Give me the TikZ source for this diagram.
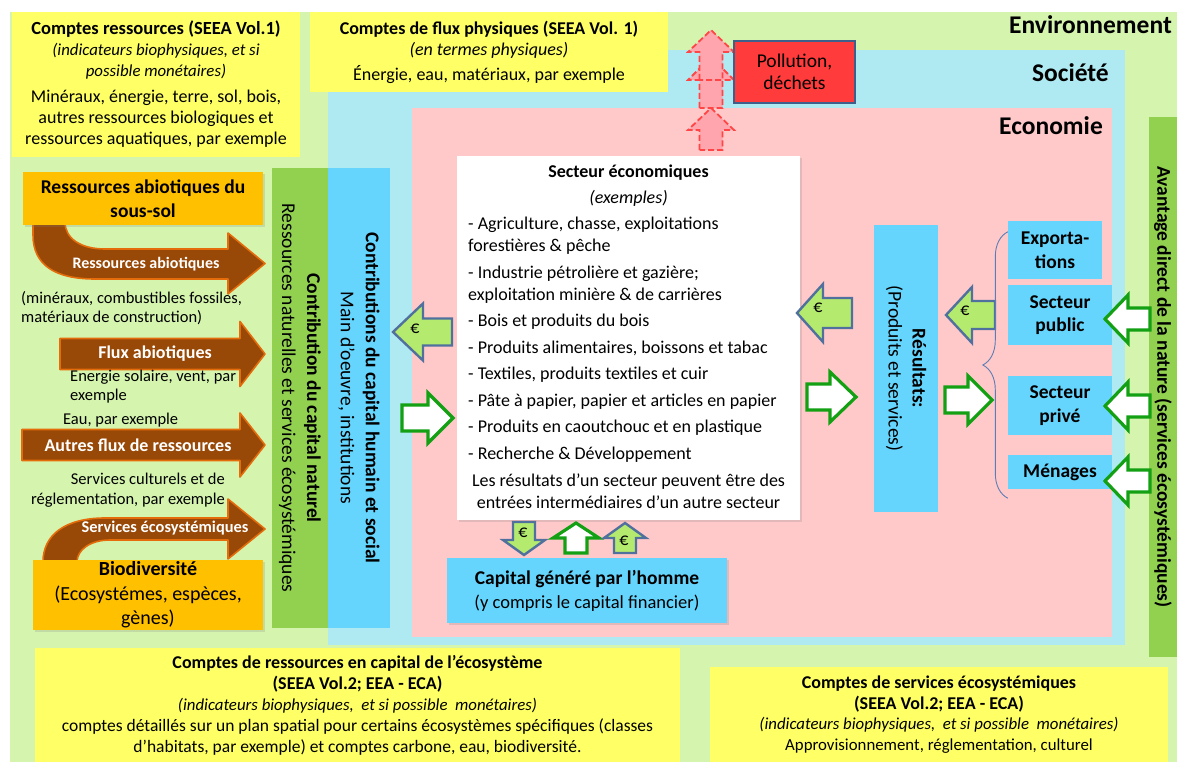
\documentclass[tikz,border=0pt]{standalone}
\usepackage{fontspec}
\setmainfont{Carlito}
\usetikzlibrary{decorations.pathreplacing,shadows}
\definecolor{envgreen}{HTML}{D5F5AF}
\definecolor{socblue}{HTML}{AFEAF3}
\definecolor{ecopink}{HTML}{FFC9C9}
\definecolor{accyellow}{HTML}{FFFF66}
\definecolor{orangebox}{HTML}{FFC000}
\definecolor{brownfill}{HTML}{984807}
\definecolor{brownline}{HTML}{E46C0A}
\definecolor{natgreen}{HTML}{92D050}
\definecolor{humblue}{HTML}{66D5FD}
\definecolor{eurofill}{HTML}{B4EA6E}
\definecolor{euroline}{HTML}{50709E}
\definecolor{okgreen}{HTML}{13A013}
\definecolor{pollred}{HTML}{FF3B3B}
\definecolor{pollline}{HTML}{3E5F8A}
\definecolor{pinkfill}{HTML}{FFA5AD}
\definecolor{pinkline}{HTML}{FF4545}
\definecolor{bracecol}{HTML}{5B7DB5}
\begin{document}
\begin{tikzpicture}[x=1pt,y=-1pt,
  box/.style={rectangle,inner sep=0pt,align=center},
  shade/.style={drop shadow={opacity=0.22,shadow xshift=2pt,shadow yshift=-2pt}},
  ybox/.style={box,fill=accyellow},
  obox/.style={box,shade,fill=orangebox,font=\fontsize{19.5}{24}\selectfont},
  bbox/.style={box,fill=humblue,font=\fontsize{19.5}{23.5}\selectfont\bfseries},
  brownarr/.style={fill=brownfill,draw=brownline,line width=1.6pt,line join=round},
  eurarr/.style={fill=eurofill,draw=euroline,line width=2.4pt},
  whitearr/.style={fill=white,draw=okgreen,line width=3.2pt},
  wastearr/.style={fill=pinkfill,draw=pinkline,line width=1.8pt,dash pattern=on 6pt off 3pt},
  flowlbl/.style={inner sep=0pt,text=white,font=\fontsize{18}{18}\selectfont\bfseries},
  note/.style={inner sep=0pt,font=\fontsize{16.5}{19.5}\selectfont},
  euro/.style={inner sep=0pt,font=\fontsize{18}{18}\selectfont},
  title/.style={inner sep=0pt,anchor=east,font=\fontsize{25.5}{25.5}\selectfont\bfseries},
  pics/blockarr/.style n args={4}{code={
    \path[pic actions] (0,{-#2})--({#1-#4},{-#2})--({#1-#4},{-#3})--(#1,0)
      --({#1-#4},#3)--({#1-#4},#2)--(0,#2)--cycle;}}
]
\useasboundingbox (0,0) rectangle (1177,767);
% nested areas
\fill[envgreen] (10,12) rectangle (1177,762);
\fill[socblue] (328,50) rectangle (1125,645);
\fill[ecopink] (412,108) rectangle (1112,637);
\node[title] (env) at (1172,25) {Environnement};
\node[title] (soc) at (1109,73) {Société};
\node[title] (eco) at (1103,126) {Economie};
%
% accounts, top
\node[ybox,minimum width=288,minimum height=145,font=\fontsize{18}{21}\selectfont] (resacc) at (156,84.5)
  {{\fontsize{18.5}{21}\selectfont\bfseries Comptes ressources (SEEA Vol.1)}\\
   {\fontsize{16.8}{21}\selectfont\itshape (indicateurs biophysiques, et si}\\
   {\fontsize{16.8}{21}\selectfont\itshape possible monétaires)}\\[5pt]
   Minéraux, énergie, terre, sol, bois,\\
   autres ressources biologiques et\\ ressources aquatiques, par exemple};
\node[ybox,minimum width=358,minimum height=80,font=\fontsize{18}{21}\selectfont] (fluxacc) at (489,52)
  {\textbf{Comptes de flux physiques (SEEA Vol. 1)}\\ \textit{(en termes physiques)}\\[4pt]
   Énergie, eau, matériaux, par exemple};
%
% waste going out
\pic[wastearr,rotate=90] at (711,150) {blockarr={42}{11.5}{23}{22}};
\pic[wastearr,rotate=90] at (711,108) {blockarr={51}{11.5}{23}{23}};
\pic[wastearr,rotate=90] at (711,80) {blockarr={50}{11.5}{23}{22}};
\node[box,fill=pollred,draw=pollline,line width=2.4pt,minimum width=121,minimum height=62,
  font=\fontsize{19.5}{22}\selectfont] (poll) at (794.5,72) {Pollution,\\ déchets};
%
% natural inputs
\draw[brownarr] (33,222) -- (33,235) .. controls (33,265) and (55,279) .. (95,279)
  -- (228,279) -- (228,294) -- (265,263.5) -- (228,233) -- (228,249) -- (105,249)
  .. controls (80,249) and (65,238) .. (65,222) -- cycle;
\pic[brownarr] at (60,354) {blockarr={205}{15.5}{32.5}{25}};
\pic[brownarr] at (22,445) {blockarr={243}{15.5}{32}{25}};
\draw[brownarr] (43,562) .. controls (43,535) and (65,518) .. (105,518) -- (228,518)
  -- (228,499) -- (265,529) -- (228,559) -- (228,540) -- (110,540)
  .. controls (90,540) and (77,550) .. (77,562) -- cycle;
\node[obox,minimum width=240,minimum height=53] (soussol) at (143,198.5)
  {\bfseries Ressources abiotiques du\\ \bfseries sous-sol};
\node[obox,minimum width=230,minimum height=70,font=\fontsize{20}{24.5}\selectfont] (biodiv) at (148,595)
  {\textbf{Biodiversité}\\ (Ecosystémes, espèces,\\ gènes)};
\node[flowlbl,font=\fontsize{16}{16}\selectfont\bfseries] (abio) at (146,264) {Ressources abiotiques};
\node[flowlbl] (fluxab) at (155,354) {Flux abiotiques};
\node[flowlbl] (autres) at (138,445) {Autres flux de ressources};
\node[flowlbl,font=\fontsize{16.4}{16}\selectfont\bfseries] (servic) at (165,528) {Services écosystémiques};
\node[note,anchor=west,align=left] (miner) at (21,308)
  {(minéraux, combustibles fossiles,\\ matériaux de construction)};
\node[note,anchor=west,align=left] (solaire) at (70,386.5) {Energie solaire, vent, par\\ exemple};
\node[note,anchor=west] (eau) at (63,420) {Eau, par exemple};
\node[note,anchor=east,align=right] (cultur) at (225,490)
  {Services culturels et de\\ réglementation, par exemple};
%
% capital columns
\node[box,rotate=-90,fill=natgreen,minimum width=460,minimum height=56,
  font=\fontsize{19.5}{25}\selectfont] (natcol) at (300,398)
  {\textbf{Contribution du capital naturel}\\ Ressources naturelles et services écosystémiques};
\node[box,rotate=-90,fill=humblue,minimum width=460,minimum height=62,
  font=\fontsize{19.5}{25}\selectfont] (humcol) at (359,398)
  {\textbf{Contributions du capital humain et social}\\ Main d’oeuvre, institutions};
%
% economic sectors
\node[box,shade,fill=white,minimum width=343,minimum height=364] (secteur) at (628.5,338) {};
\node[box,font=\fontsize{18}{26}\selectfont] (sechead) at (628.5,186)
  {\textbf{Secteur économiques}\\ \textit{(exemples)}};
\node[box,anchor=west,align=left,font=\fontsize{18}{22}\selectfont] (secitems) at (468,339.5)
  {- Agriculture, chasse, exploitations\\ forestières \& pêche\\[4.5pt]
   - Industrie pétrolière et gazière;\\ exploitation minière \& de carrières\\[4.5pt]
   - Bois et produits du bois\\[4.5pt]
   - Produits alimentaires, boissons et tabac\\[4.5pt]
   - Textiles, produits textiles et cuir\\[4.5pt]
   - Pâte à papier, papier et articles en papier\\[4.5pt]
   - Produits en caoutchouc et en plastique\\[4.5pt]
   - Recherche \& Développement};
\node[box,font=\fontsize{18}{22}\selectfont] (secfoot) at (628.5,491)
  {Les résultats d’un secteur peuvent être des\\ entrées intermédiaires d’un autre secteur};
\node[bbox,shade,minimum width=280,minimum height=65,font=\fontsize{19.5}{24}\selectfont\bfseries] (capital) at (587,590.5)
  {Capital généré par l’homme\\ \mdseries\fontsize{18.5}{24}\selectfont (y compris le capital financier)};
%
% flows around the sectors
\pic[eurarr,xscale=-1] at (452,332) {blockarr={59}{13.5}{28.5}{30}};
\node[euro] (eu1) at (415,329) {€};
\pic[whitearr] at (402,418) {blockarr={51}{13}{25}{25}};
\pic[eurarr,rotate=-90] at (524,522) {blockarr={33}{11}{21}{15}};
\node[euro] (eu4) at (523,533) {€};
\pic[whitearr,rotate=90] at (576,553) {blockarr={30}{11}{23}{15}};
\pic[eurarr,rotate=90] at (625,553) {blockarr={30}{11}{21}{15}};
\node[euro] (eu5) at (624,541) {€};
\pic[eurarr,xscale=-1] at (852,313) {blockarr={55}{15}{29}{26}};
\node[euro] (eu2) at (818,308) {€};
\pic[whitearr] at (807,397) {blockarr={49}{13}{25}{26}};
%
% results and users
\node[box,rotate=-90,fill=humblue,minimum width=287,minimum height=64,
  font=\fontsize{19.5}{24}\selectfont] (result) at (906,368.5)
  {\textbf{Résultats:}\\ (Produits et services)};
\pic[eurarr,xscale=-1] at (995,315) {blockarr={49}{14}{28}{26}};
\node[euro] (eu3) at (965,311) {€};
\pic[whitearr] at (945,400) {blockarr={47}{13}{24}{24}};
\node[bbox,minimum width=94,minimum height=58] (expo) at (1055,250) {Exporta-\\ tions};
\node[bbox,minimum width=104,minimum height=60] (public) at (1060,315) {Secteur\\ public};
\node[bbox,minimum width=104,minimum height=59] (prive) at (1060,405.5) {Secteur\\ privé};
\node[bbox,minimum width=104,minimum height=34] (menages) at (1060,472) {Ménages};
\draw[bracecol,line width=0.9pt,decorate,decoration={brace,amplitude=25pt}]
  ([yshift=-9pt]menages.south west) -- ([yshift=-11pt]expo.north west);
%
% direct benefit from nature
\node[box,rotate=-90,fill=natgreen,minimum width=540,minimum height=28,
  font=\fontsize{19.5}{19.5}\selectfont\bfseries] (avant) at (1163,387)
  {Avantage direct de la nature (services écosystémiques)};
\pic[whitearr,xscale=-1] at (1150,319) {blockarr={45}{11}{24}{23}};
\pic[whitearr,xscale=-1] at (1150,406) {blockarr={45}{11}{24}{23}};
\pic[whitearr,xscale=-1] at (1150,481) {blockarr={45}{11}{24}{23}};
%
% accounts, bottom
\node[ybox,minimum width=645,minimum height=114,font=\fontsize{17.5}{21}\selectfont] (capacc) at (357.5,705)
  {{\fontsize{18}{21}\selectfont\bfseries Comptes de ressources en capital de l’écosystème}\\
   {\fontsize{18}{21}\selectfont\bfseries (SEEA Vol.2; EEA - ECA)}\\
   {\fontsize{16.8}{21}\selectfont\itshape (indicateurs biophysiques,\ \ et si possible\ \ monétaires)}\\
   comptes détaillés sur un plan spatial pour certains écosystèmes spécifiques (classes\\
   d’habitats, par exemple) et comptes carbone, eau, biodiversité.};
\node[ybox,minimum width=458,minimum height=95,font=\fontsize{16.8}{20.5}\selectfont] (servacc) at (939,714.5)
  {{\fontsize{18}{20.5}\selectfont\bfseries Comptes de services écosystémiques}\\
   {\fontsize{18}{20.5}\selectfont\bfseries (SEEA Vol.2; EEA - ECA)}\\
   \textit{(indicateurs biophysiques,\ \ et si possible\ \ monétaires)}\\
   Approvisionnement, réglementation, culturel};
\end{tikzpicture}
\end{document}
